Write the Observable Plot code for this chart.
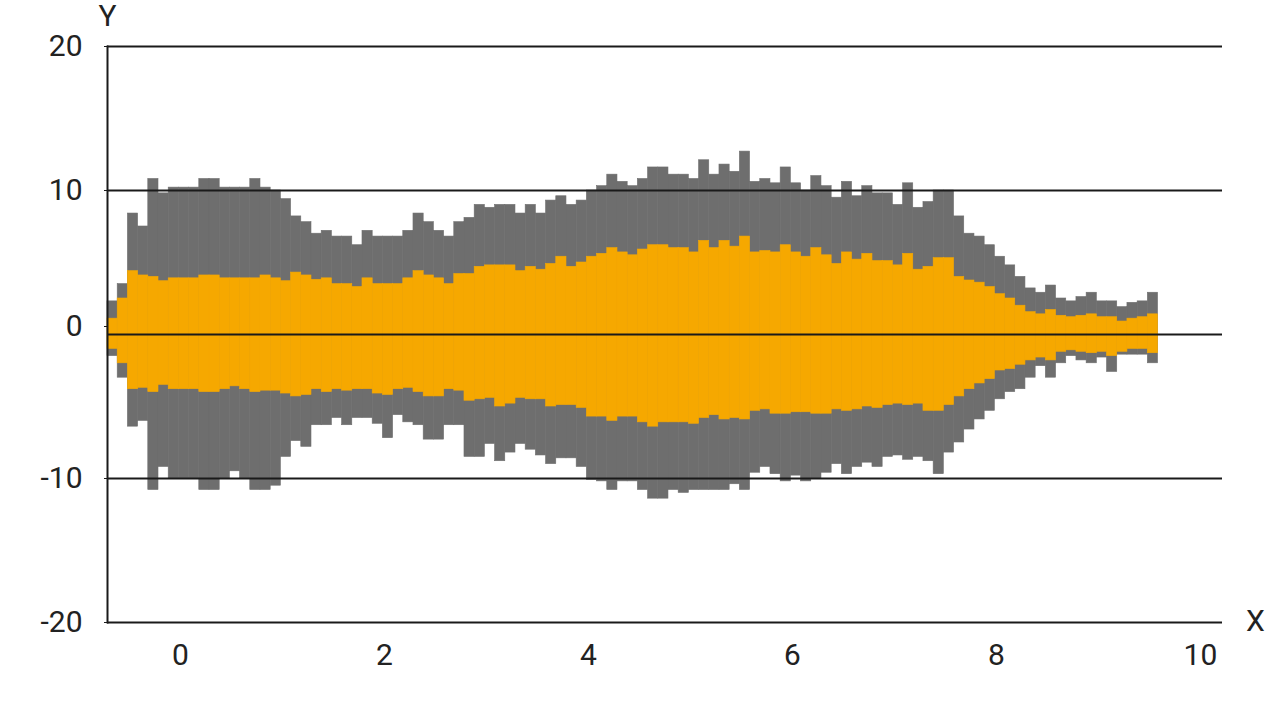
<!DOCTYPE html>
<html>
<head>
<meta charset="utf-8">
<script src="https://cdn.jsdelivr.net/npm/d3@7"></script>
<script src="https://cdn.jsdelivr.net/npm/@observablehq/plot@0.6"></script>
<style>
  html, body { margin: 0; padding: 0; background: #fff; }
  #chart { width: 1280px; height: 720px; }
</style>
</head>
<body>
<div id="chart"></div>
<script>
// bin layout
const binStart = -0.716;
const binWidth = 0.1;

// per-bin envelope (max / min) — gray series
const grayMax = [
  2.3, 3.5, 8.4, 7.5, 10.8, 9.8, 10.2, 10.2, 10.2, 10.8,
  10.8, 10.2, 10.2, 10.2, 10.8, 10.2, 10.0, 9.4, 8.2, 7.8,
  7.0, 7.2, 6.8, 6.8, 6.2, 7.2, 6.8, 6.8, 6.8, 7.2,
  8.4, 7.8, 7.2, 6.8, 7.8, 8.1, 9.0, 8.8, 9.0, 9.0,
  8.4, 9.0, 8.4, 9.3, 9.6, 9.0, 9.3, 10.0, 10.3, 11.1,
  10.6, 10.3, 10.8, 11.6, 11.6, 11.1, 11.1, 10.8, 12.1, 11.1,
  11.8, 11.3, 12.7, 10.6, 10.8, 10.5, 11.6, 10.5, 10.0, 11.0,
  10.3, 9.5, 10.6, 9.6, 10.3, 9.8, 9.8, 9.0, 10.5, 8.8,
  9.2, 10.0, 10.0, 8.2, 7.0, 6.8, 6.2, 5.4, 4.8, 4.0,
  3.2, 2.9, 3.4, 2.5, 2.3, 2.6, 2.9, 2.3, 2.3, 1.9,
  2.2, 2.3, 2.9
];
const grayMin = [
  -1.5, -3.0, -6.4, -6.0, -10.8, -9.2, -10.0, -10.0, -10.0, -10.8,
  -10.8, -10.0, -9.5, -10.0, -10.8, -10.8, -10.5, -8.5, -7.4, -7.8,
  -6.3, -6.3, -5.8, -6.3, -5.8, -5.8, -6.2, -7.2, -5.6, -6.1,
  -6.3, -7.3, -7.3, -6.3, -6.3, -8.5, -8.5, -7.6, -8.8, -8.2,
  -7.6, -8.0, -8.4, -9.0, -8.6, -8.6, -9.2, -10.1, -10.2, -10.8,
  -10.2, -10.2, -10.8, -11.4, -11.4, -10.8, -11.0, -10.8, -10.8, -10.8,
  -10.8, -10.4, -10.8, -9.6, -9.2, -9.7, -10.2, -9.8, -10.2, -10.0,
  -9.6, -9.0, -9.7, -9.2, -8.9, -9.2, -8.5, -8.4, -8.7, -8.5,
  -8.8, -9.7, -8.2, -7.5, -6.6, -5.9, -5.3, -4.5, -4.0, -3.8,
  -3.0, -2.2, -3.0, -2.0, -1.5, -1.8, -2.0, -1.6, -2.6, -1.4,
  -1.4, -1.4, -2.0
];

// per-bin spread — orange series
const orangeMax = [
  1.1, 2.5, 4.4, 4.1, 4.0, 3.7, 3.9, 3.9, 3.9, 4.1,
  4.1, 3.9, 3.9, 3.9, 3.9, 4.1, 3.9, 3.7, 4.3, 4.1,
  3.8, 3.9, 3.5, 3.5, 3.3, 3.9, 3.5, 3.5, 3.5, 3.9,
  4.4, 4.1, 3.9, 3.5, 4.2, 4.2, 4.7, 4.8, 4.8, 4.8,
  4.4, 4.7, 4.5, 4.9, 5.4, 4.7, 5.0, 5.4, 5.6, 6.0,
  5.7, 5.5, 5.9, 6.2, 6.2, 6.0, 6.0, 5.7, 6.5, 6.0,
  6.5, 6.1, 6.8, 5.7, 5.8, 5.7, 6.2, 5.7, 5.4, 6.0,
  5.5, 4.9, 5.7, 5.2, 5.6, 5.1, 5.1, 4.8, 5.6, 4.5,
  4.7, 5.3, 5.3, 4.0, 3.75, 3.6, 3.3, 2.8, 2.5, 2.0,
  1.55, 1.4, 1.7, 1.3, 1.2, 1.3, 1.4, 1.2, 1.2, 0.9,
  1.1, 1.2, 1.4
];
const orangeMin = [
  -1.0, -2.0, -3.8, -3.7, -4.0, -3.5, -3.8, -3.8, -3.8, -4.0,
  -4.0, -3.8, -3.6, -3.8, -4.0, -3.9, -3.9, -4.1, -4.3, -4.2,
  -3.8, -4.0, -3.8, -3.9, -3.8, -3.8, -4.1, -4.2, -3.8, -3.7,
  -4.0, -4.3, -4.3, -3.8, -3.9, -4.6, -4.5, -4.4, -5.0, -4.8,
  -4.4, -4.5, -4.5, -5.0, -4.9, -4.9, -5.1, -5.7, -5.7, -6.0,
  -5.7, -5.7, -6.1, -6.4, -6.1, -6.1, -6.1, -6.2, -5.8, -5.6,
  -5.9, -5.8, -5.9, -5.3, -5.2, -5.5, -5.5, -5.4, -5.4, -5.5,
  -5.5, -5.2, -5.3, -5.2, -5.0, -5.1, -4.9, -4.8, -4.9, -4.8,
  -5.3, -5.3, -4.9, -4.3, -3.8, -3.4, -3.1, -2.5, -2.4, -2.1,
  -1.8, -1.6, -1.8, -1.2, -1.1, -1.2, -1.3, -1.2, -1.5, -1.2,
  -1.0, -1.0, -1.3
];

const xTicks = [0, 2, 4, 6, 8, 10];
const yTicks = [20, 10, 0, -10, -20];

const bins = grayMax.map((g, i) => ({
  x1: binStart + i * binWidth,
  x2: binStart + (i + 1) * binWidth,
  gmax: g,
  gmin: grayMin[i],
  omax: orangeMax[i],
  omin: orangeMin[i]
}));

const GRAY = "#6e6e6e";
const ORANGE = "#f6a800";
const INK = "#1a1a1a";
const FONT = 30;
const fmt = d => String(d);

const chart = Plot.plot({
  width: 1280,
  height: 720,
  marginLeft: 107,
  marginRight: 58,
  marginTop: 46,
  marginBottom: 98,
  style: { fontFamily: "Roboto, sans-serif", fontSize: FONT + "px", color: "#222", background: "#fff" },
  x: { domain: [-0.716, 10.216] },
  y: { domain: [-20, 20] },
  marks: [
    Plot.rect(bins, { x1: "x1", x2: "x2", y1: "gmin", y2: "gmax", fill: GRAY, stroke: GRAY, strokeWidth: 0.6 }),
    Plot.rect(bins, { x1: "x1", x2: "x2", y1: "omin", y2: "omax", fill: ORANGE, stroke: ORANGE, strokeWidth: 0.6 }),
    Plot.ruleY(yTicks, { stroke: INK, strokeWidth: 2 }),
    Plot.frame({ anchor: "left", stroke: INK, strokeWidth: 2 }),
    Plot.axisY(yTicks.filter(d => d !== 0), { tickSize: 3, tickPadding: 22, label: null, fontSize: FONT, stroke: INK, tickFormat: fmt }),
    Plot.axisY([0], { tickSize: 3, tickPadding: 22, label: null, fontSize: FONT, dy: -8, stroke: INK, tickFormat: fmt }),
    Plot.axisX(xTicks, { tickSize: 0, tickPadding: 21, label: null, fontSize: FONT, tickFormat: fmt }),
    Plot.text(["Y"], { frameAnchor: "top-left", text: d => d, dy: -30, textAnchor: "middle", lineAnchor: "middle", fontSize: FONT, fill: "#222" }),
    Plot.text(["X"], { frameAnchor: "bottom-right", text: d => d, dx: 33, dy: -1, textAnchor: "middle", lineAnchor: "middle", fontSize: FONT, fill: "#222" })
  ]
});

document.getElementById("chart").appendChild(chart);
</script>
</body>
</html>
